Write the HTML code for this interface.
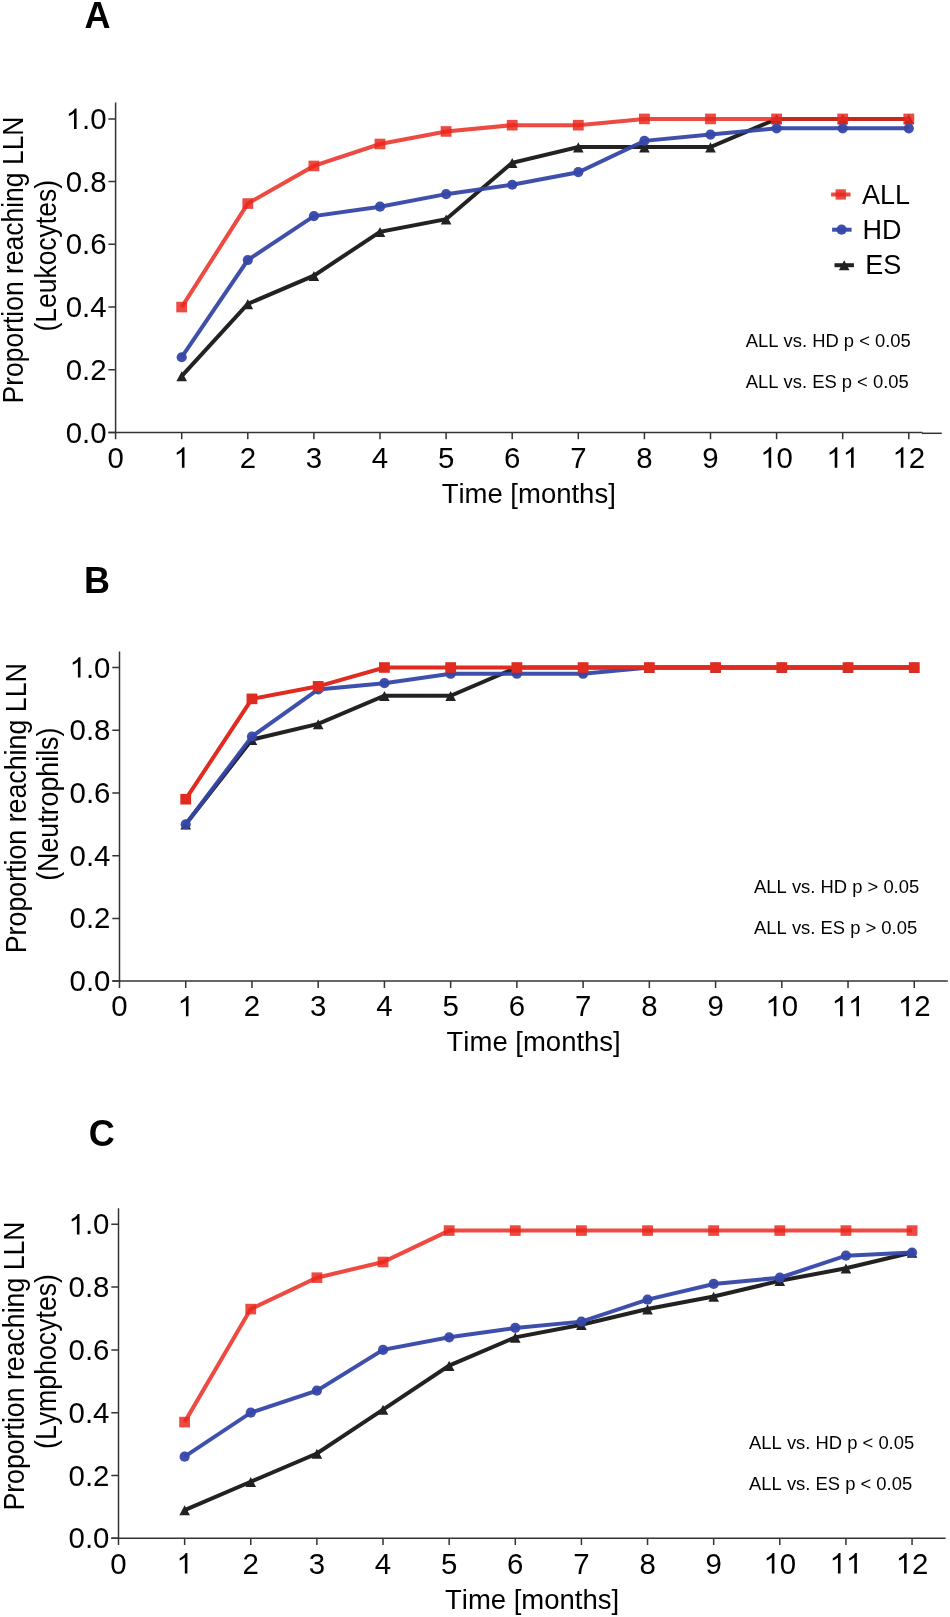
<!DOCTYPE html><html><head><meta charset="utf-8"><title>Figure</title><style>html,body{margin:0;padding:0;background:#fff;}svg{display:block;will-change:transform;}text{font-family:"Liberation Sans", sans-serif;fill:#000;font-kerning:none;}</style></head><body>
<svg width="950" height="1617" viewBox="0 0 950 1617">
<rect width="950" height="1617" fill="#fff"/>
<g><text x="84.5" y="28" font-size="36" font-weight="bold">A</text>
<g stroke="#333333" stroke-width="1.5" fill="none">
<path d="M115.6 102.6V432.5"/>
<path d="M108.4 432.5H922.5"/><path d="M922 433.3H941.8"/>
<path d="M108.4 432.5H115.6M108.4 369.78H115.6M108.4 307.06H115.6M108.4 244.34H115.6M108.4 181.62H115.6M108.4 118.9H115.6M115.6 432.5V439.3M181.7 432.5V439.3M247.8 432.5V439.3M313.9 432.5V439.3M380 432.5V439.3M446.1 432.5V439.3M512.2 432.5V439.3M578.3 432.5V439.3M644.4 432.5V439.3M710.5 432.5V439.3M776.6 432.5V439.3M842.7 432.5V439.3M908.8 432.5V439.3"/>
</g>
<g transform="translate(106.5 442.6) scale(1 1.03)"><text x="-40.87" y="0" font-size="29.4">0</text><text x="-24.52" y="0" font-size="29.4">.</text><text x="-16.35" y="0" font-size="29.4">0</text></g>
<g transform="translate(106.5 379.88) scale(1 1.03)"><text x="-40.87" y="0" font-size="29.4">0</text><text x="-24.52" y="0" font-size="29.4">.</text><text x="-16.35" y="0" font-size="29.4">2</text></g>
<g transform="translate(106.5 317.16) scale(1 1.03)"><text x="-40.87" y="0" font-size="29.4">0</text><text x="-24.52" y="0" font-size="29.4">.</text><text x="-16.35" y="0" font-size="29.4">4</text></g>
<g transform="translate(106.5 254.44) scale(1 1.03)"><text x="-40.87" y="0" font-size="29.4">0</text><text x="-24.52" y="0" font-size="29.4">.</text><text x="-16.35" y="0" font-size="29.4">6</text></g>
<g transform="translate(106.5 191.72) scale(1 1.03)"><text x="-40.87" y="0" font-size="29.4">0</text><text x="-24.52" y="0" font-size="29.4">.</text><text x="-16.35" y="0" font-size="29.4">8</text></g>
<g transform="translate(106.5 129) scale(1 1.03)"><path transform="translate(-40.87 0) scale(0.014355 -0.013463)" d="M763 0H583V1147Q518 1085 412 1023Q306 961 223 930V1104Q374 1175 487 1276Q600 1377 647 1472H763Z"/><text x="-24.52" y="0" font-size="29.4">.</text><text x="-16.35" y="0" font-size="29.4">0</text></g>
<g transform="translate(115.6 467.7) scale(1 1.03)"><text x="-8.17" y="0" font-size="29.4">0</text></g>
<g transform="translate(181.7 467.7) scale(1 1.03)"><path transform="translate(-8.17 0) scale(0.014355 -0.013463)" d="M763 0H583V1147Q518 1085 412 1023Q306 961 223 930V1104Q374 1175 487 1276Q600 1377 647 1472H763Z"/></g>
<g transform="translate(247.8 467.7) scale(1 1.03)"><text x="-8.17" y="0" font-size="29.4">2</text></g>
<g transform="translate(313.9 467.7) scale(1 1.03)"><text x="-8.17" y="0" font-size="29.4">3</text></g>
<g transform="translate(380 467.7) scale(1 1.03)"><text x="-8.17" y="0" font-size="29.4">4</text></g>
<g transform="translate(446.1 467.7) scale(1 1.03)"><text x="-8.17" y="0" font-size="29.4">5</text></g>
<g transform="translate(512.2 467.7) scale(1 1.03)"><text x="-8.17" y="0" font-size="29.4">6</text></g>
<g transform="translate(578.3 467.7) scale(1 1.03)"><text x="-8.17" y="0" font-size="29.4">7</text></g>
<g transform="translate(644.4 467.7) scale(1 1.03)"><text x="-8.17" y="0" font-size="29.4">8</text></g>
<g transform="translate(710.5 467.7) scale(1 1.03)"><text x="-8.17" y="0" font-size="29.4">9</text></g>
<g transform="translate(776.6 467.7) scale(1 1.03)"><path transform="translate(-16.35 0) scale(0.014355 -0.013463)" d="M763 0H583V1147Q518 1085 412 1023Q306 961 223 930V1104Q374 1175 487 1276Q600 1377 647 1472H763Z"/><text x="0" y="0" font-size="29.4">0</text></g>
<g transform="translate(842.7 467.7) scale(1 1.03)"><path transform="translate(-16.35 0) scale(0.014355 -0.013463)" d="M763 0H583V1147Q518 1085 412 1023Q306 961 223 930V1104Q374 1175 487 1276Q600 1377 647 1472H763Z"/><path transform="translate(0 0) scale(0.014355 -0.013463)" d="M763 0H583V1147Q518 1085 412 1023Q306 961 223 930V1104Q374 1175 487 1276Q600 1377 647 1472H763Z"/></g>
<g transform="translate(908.8 467.7) scale(1 1.03)"><path transform="translate(-16.35 0) scale(0.014355 -0.013463)" d="M763 0H583V1147Q518 1085 412 1023Q306 961 223 930V1104Q374 1175 487 1276Q600 1377 647 1472H763Z"/><text x="0" y="0" font-size="29.4">2</text></g>
<text transform="translate(528.7 502.7) scale(1 1.03)" font-size="27.5" text-anchor="middle">Time [months]</text>
<text transform="translate(23.1 260) rotate(-90) scale(0.946 1.05)" font-size="28" text-anchor="middle">Proportion reaching LLN</text>
<text transform="translate(55.5 255.8) rotate(-90) scale(0.946 1.05)" font-size="28" text-anchor="middle">(Leukocytes)</text>
<text x="745.7" y="346.8" font-size="18.4">ALL vs. HD p &lt; 0.05</text>
<text x="745.7" y="387.5" font-size="18.4">ALL vs. ES p &lt; 0.05</text>
<g fill="#222222"><polyline points="181.7,376.05 247.8,303.92 313.9,275.7 380,231.8 446.1,219.25 512.2,162.8 578.3,147.12 644.4,147.12 710.5,147.12 776.6,118.9 842.7,118.9 908.8,118.9" fill="none" stroke="#222222" stroke-width="4.0" stroke-linejoin="miter"/>
<path d="M181.7 371.25L187 381.35L176.4 381.35Z"/>
<path d="M247.8 299.12L253.1 309.22L242.5 309.22Z"/>
<path d="M313.9 270.9L319.2 281L308.6 281Z"/>
<path d="M380 227L385.3 237.1L374.7 237.1Z"/>
<path d="M446.1 214.45L451.4 224.55L440.8 224.55Z"/>
<path d="M512.2 158L517.5 168.1L506.9 168.1Z"/>
<path d="M578.3 142.32L583.6 152.42L573 152.42Z"/>
<path d="M644.4 142.32L649.7 152.42L639.1 152.42Z"/>
<path d="M710.5 142.32L715.8 152.42L705.2 152.42Z"/>
<path d="M776.6 114.1L781.9 124.2L771.3 124.2Z"/>
<path d="M842.7 114.1L848 124.2L837.4 124.2Z"/>
<path d="M908.8 114.1L914.1 124.2L903.5 124.2Z"/>
</g>
<g fill="#3547a8" fill-opacity="0.95"><polyline points="181.7,357.24 247.8,260.02 313.9,216.12 380,206.71 446.1,194.16 512.2,184.76 578.3,172.21 644.4,140.85 710.5,134.58 776.6,128.31 842.7,128.31 908.8,128.31" fill="none" stroke="#3547a8" stroke-opacity="0.95" stroke-width="4.0"/>
<circle cx="181.7" cy="357.24" r="5.1"/>
<circle cx="247.8" cy="260.02" r="5.1"/>
<circle cx="313.9" cy="216.12" r="5.1"/>
<circle cx="380" cy="206.71" r="5.1"/>
<circle cx="446.1" cy="194.16" r="5.1"/>
<circle cx="512.2" cy="184.76" r="5.1"/>
<circle cx="578.3" cy="172.21" r="5.1"/>
<circle cx="644.4" cy="140.85" r="5.1"/>
<circle cx="710.5" cy="134.58" r="5.1"/>
<circle cx="776.6" cy="128.31" r="5.1"/>
<circle cx="842.7" cy="128.31" r="5.1"/>
<circle cx="908.8" cy="128.31" r="5.1"/>
</g>
<g fill="#ea271d" fill-opacity="0.84"><polyline points="181.7,307.06 247.8,203.57 313.9,165.94 380,143.99 446.1,131.44 512.2,125.17 578.3,125.17 644.4,118.9 710.5,118.9 776.6,118.9 842.7,118.9 908.8,118.9" fill="none" stroke="#ea271d" stroke-opacity="0.84" stroke-width="4.0"/>
<rect x="176.3" y="301.76" width="10.8" height="10.6"/>
<rect x="242.4" y="198.27" width="10.8" height="10.6"/>
<rect x="308.5" y="160.64" width="10.8" height="10.6"/>
<rect x="374.6" y="138.69" width="10.8" height="10.6"/>
<rect x="440.7" y="126.14" width="10.8" height="10.6"/>
<rect x="506.8" y="119.87" width="10.8" height="10.6"/>
<rect x="572.9" y="119.87" width="10.8" height="10.6"/>
<rect x="639" y="113.6" width="10.8" height="10.6"/>
<rect x="705.1" y="113.6" width="10.8" height="10.6"/>
<rect x="771.2" y="113.6" width="10.8" height="10.6"/>
<rect x="837.3" y="113.6" width="10.8" height="10.6"/>
<rect x="903.4" y="113.6" width="10.8" height="10.6"/>
</g>
<g fill="#ea271d" fill-opacity="0.84"><path d="M831.1 194.5H850.5" stroke="#ea271d" stroke-opacity="0.84" stroke-width="4.0"/><rect x="835.6" y="189.3" width="10.3" height="10.3"/></g>
<g fill="#3547a8" fill-opacity="0.95"><path d="M832.1 229.7H851.6" stroke="#3547a8" stroke-opacity="0.95" stroke-width="4.0"/><circle cx="841.6" cy="229.7" r="5.1"/></g>
<g fill="#222222"><path d="M834.5 265.2H853.9" stroke="#222222" stroke-width="4.0"/><path d="M844.2 260.2L849.5 270.3L838.9 270.3Z"/></g>
<text x="862.1" y="203.6" font-size="27">ALL</text>
<text x="862.5" y="239" font-size="27">HD</text>
<text x="865.2" y="274" font-size="27">ES</text></g>
<g><text x="84" y="592.6" font-size="36" font-weight="bold">B</text>
<g stroke="#333333" stroke-width="1.5" fill="none">
<path d="M119.5 651.6V981.1"/>
<path d="M112.3 981.1H947.8"/>
<path d="M112.3 981.1H119.5M112.3 918.38H119.5M112.3 855.66H119.5M112.3 792.94H119.5M112.3 730.22H119.5M112.3 667.5H119.5M119.5 981.1V987.9M185.73 981.1V987.9M251.96 981.1V987.9M318.19 981.1V987.9M384.42 981.1V987.9M450.65 981.1V987.9M516.88 981.1V987.9M583.11 981.1V987.9M649.34 981.1V987.9M715.57 981.1V987.9M781.8 981.1V987.9M848.03 981.1V987.9M914.26 981.1V987.9"/>
</g>
<g transform="translate(110.4 991.2) scale(1 1.03)"><text x="-40.87" y="0" font-size="29.4">0</text><text x="-24.52" y="0" font-size="29.4">.</text><text x="-16.35" y="0" font-size="29.4">0</text></g>
<g transform="translate(110.4 928.48) scale(1 1.03)"><text x="-40.87" y="0" font-size="29.4">0</text><text x="-24.52" y="0" font-size="29.4">.</text><text x="-16.35" y="0" font-size="29.4">2</text></g>
<g transform="translate(110.4 865.76) scale(1 1.03)"><text x="-40.87" y="0" font-size="29.4">0</text><text x="-24.52" y="0" font-size="29.4">.</text><text x="-16.35" y="0" font-size="29.4">4</text></g>
<g transform="translate(110.4 803.04) scale(1 1.03)"><text x="-40.87" y="0" font-size="29.4">0</text><text x="-24.52" y="0" font-size="29.4">.</text><text x="-16.35" y="0" font-size="29.4">6</text></g>
<g transform="translate(110.4 740.32) scale(1 1.03)"><text x="-40.87" y="0" font-size="29.4">0</text><text x="-24.52" y="0" font-size="29.4">.</text><text x="-16.35" y="0" font-size="29.4">8</text></g>
<g transform="translate(110.4 677.6) scale(1 1.03)"><path transform="translate(-40.87 0) scale(0.014355 -0.013463)" d="M763 0H583V1147Q518 1085 412 1023Q306 961 223 930V1104Q374 1175 487 1276Q600 1377 647 1472H763Z"/><text x="-24.52" y="0" font-size="29.4">.</text><text x="-16.35" y="0" font-size="29.4">0</text></g>
<g transform="translate(119.5 1016.3) scale(1 1.03)"><text x="-8.17" y="0" font-size="29.4">0</text></g>
<g transform="translate(185.73 1016.3) scale(1 1.03)"><path transform="translate(-8.17 0) scale(0.014355 -0.013463)" d="M763 0H583V1147Q518 1085 412 1023Q306 961 223 930V1104Q374 1175 487 1276Q600 1377 647 1472H763Z"/></g>
<g transform="translate(251.96 1016.3) scale(1 1.03)"><text x="-8.17" y="0" font-size="29.4">2</text></g>
<g transform="translate(318.19 1016.3) scale(1 1.03)"><text x="-8.17" y="0" font-size="29.4">3</text></g>
<g transform="translate(384.42 1016.3) scale(1 1.03)"><text x="-8.17" y="0" font-size="29.4">4</text></g>
<g transform="translate(450.65 1016.3) scale(1 1.03)"><text x="-8.17" y="0" font-size="29.4">5</text></g>
<g transform="translate(516.88 1016.3) scale(1 1.03)"><text x="-8.17" y="0" font-size="29.4">6</text></g>
<g transform="translate(583.11 1016.3) scale(1 1.03)"><text x="-8.17" y="0" font-size="29.4">7</text></g>
<g transform="translate(649.34 1016.3) scale(1 1.03)"><text x="-8.17" y="0" font-size="29.4">8</text></g>
<g transform="translate(715.57 1016.3) scale(1 1.03)"><text x="-8.17" y="0" font-size="29.4">9</text></g>
<g transform="translate(781.8 1016.3) scale(1 1.03)"><path transform="translate(-16.35 0) scale(0.014355 -0.013463)" d="M763 0H583V1147Q518 1085 412 1023Q306 961 223 930V1104Q374 1175 487 1276Q600 1377 647 1472H763Z"/><text x="0" y="0" font-size="29.4">0</text></g>
<g transform="translate(848.03 1016.3) scale(1 1.03)"><path transform="translate(-16.35 0) scale(0.014355 -0.013463)" d="M763 0H583V1147Q518 1085 412 1023Q306 961 223 930V1104Q374 1175 487 1276Q600 1377 647 1472H763Z"/><path transform="translate(0 0) scale(0.014355 -0.013463)" d="M763 0H583V1147Q518 1085 412 1023Q306 961 223 930V1104Q374 1175 487 1276Q600 1377 647 1472H763Z"/></g>
<g transform="translate(914.26 1016.3) scale(1 1.03)"><path transform="translate(-16.35 0) scale(0.014355 -0.013463)" d="M763 0H583V1147Q518 1085 412 1023Q306 961 223 930V1104Q374 1175 487 1276Q600 1377 647 1472H763Z"/><text x="0" y="0" font-size="29.4">2</text></g>
<text transform="translate(533.65 1051.3) scale(1 1.03)" font-size="27.5" text-anchor="middle">Time [months]</text>
<text transform="translate(25.5 808.2) rotate(-90) scale(0.956 1.05)" font-size="28" text-anchor="middle">Proportion reaching LLN</text>
<text transform="translate(57.9 804.2) rotate(-90) scale(0.956 1.05)" font-size="28" text-anchor="middle">(Neutrophils)</text>
<text x="754.1" y="892.7" font-size="18.4">ALL vs. HD p &gt; 0.05</text>
<text x="754.1" y="933.5" font-size="18.4">ALL vs. ES p &gt; 0.05</text>
<g fill="#222222"><polyline points="185.73,824.3 251.96,739.63 318.19,723.95 384.42,695.72 450.65,695.72 516.88,667.5 583.11,667.5 649.34,667.5 715.57,667.5 781.8,667.5 848.03,667.5 914.26,667.5" fill="none" stroke="#222222" stroke-width="4.0" stroke-linejoin="miter"/>
<path d="M185.73 819.5L191.03 829.6L180.43 829.6Z"/>
<path d="M251.96 734.83L257.26 744.93L246.66 744.93Z"/>
<path d="M318.19 719.15L323.49 729.25L312.89 729.25Z"/>
<path d="M384.42 690.92L389.72 701.02L379.12 701.02Z"/>
<path d="M450.65 690.92L455.95 701.02L445.35 701.02Z"/>
<path d="M516.88 662.7L522.18 672.8L511.58 672.8Z"/>
<path d="M583.11 662.7L588.41 672.8L577.81 672.8Z"/>
<path d="M649.34 662.7L654.64 672.8L644.04 672.8Z"/>
<path d="M715.57 662.7L720.87 672.8L710.27 672.8Z"/>
<path d="M781.8 662.7L787.1 672.8L776.5 672.8Z"/>
<path d="M848.03 662.7L853.33 672.8L842.73 672.8Z"/>
<path d="M914.26 662.7L919.56 672.8L908.96 672.8Z"/>
</g>
<g fill="#3547a8" fill-opacity="0.95"><polyline points="185.73,824.3 251.96,736.49 318.19,689.45 384.42,683.18 450.65,673.77 516.88,673.77 583.11,673.77 649.34,667.5 715.57,667.5 781.8,667.5 848.03,667.5 914.26,667.5" fill="none" stroke="#3547a8" stroke-opacity="0.95" stroke-width="4.0"/>
<circle cx="185.73" cy="824.3" r="5.1"/>
<circle cx="251.96" cy="736.49" r="5.1"/>
<circle cx="318.19" cy="689.45" r="5.1"/>
<circle cx="384.42" cy="683.18" r="5.1"/>
<circle cx="450.65" cy="673.77" r="5.1"/>
<circle cx="516.88" cy="673.77" r="5.1"/>
<circle cx="583.11" cy="673.77" r="5.1"/>
<circle cx="649.34" cy="667.5" r="5.1"/>
<circle cx="715.57" cy="667.5" r="5.1"/>
<circle cx="781.8" cy="667.5" r="5.1"/>
<circle cx="848.03" cy="667.5" r="5.1"/>
<circle cx="914.26" cy="667.5" r="5.1"/>
</g>
<g fill="#e02b21" fill-opacity="1.0"><polyline points="185.73,799.21 251.96,698.86 318.19,686.32 384.42,667.5 450.65,667.5 516.88,667.5 583.11,667.5 649.34,667.5 715.57,667.5 781.8,667.5 848.03,667.5 914.26,667.5" fill="none" stroke="#e02b21" stroke-opacity="1.0" stroke-width="4.0"/>
<rect x="180.33" y="793.91" width="10.8" height="10.6"/>
<rect x="246.56" y="693.56" width="10.8" height="10.6"/>
<rect x="312.79" y="681.02" width="10.8" height="10.6"/>
<rect x="379.02" y="662.2" width="10.8" height="10.6"/>
<rect x="445.25" y="662.2" width="10.8" height="10.6"/>
<rect x="511.48" y="662.2" width="10.8" height="10.6"/>
<rect x="577.71" y="662.2" width="10.8" height="10.6"/>
<rect x="643.94" y="662.2" width="10.8" height="10.6"/>
<rect x="710.17" y="662.2" width="10.8" height="10.6"/>
<rect x="776.4" y="662.2" width="10.8" height="10.6"/>
<rect x="842.63" y="662.2" width="10.8" height="10.6"/>
<rect x="908.86" y="662.2" width="10.8" height="10.6"/>
</g></g>
<g><text x="88.8" y="1145.7" font-size="36" font-weight="bold">C</text>
<g stroke="#333333" stroke-width="1.5" fill="none">
<path d="M118.5 1208.3V1538.3"/>
<path d="M111.3 1538.3H945.6"/>
<path d="M111.3 1538.3H118.5M111.3 1475.5H118.5M111.3 1412.7H118.5M111.3 1349.9H118.5M111.3 1287.1H118.5M111.3 1224.3H118.5M118.5 1538.3V1545.1M184.63 1538.3V1545.1M250.76 1538.3V1545.1M316.89 1538.3V1545.1M383.02 1538.3V1545.1M449.15 1538.3V1545.1M515.28 1538.3V1545.1M581.41 1538.3V1545.1M647.54 1538.3V1545.1M713.67 1538.3V1545.1M779.8 1538.3V1545.1M845.93 1538.3V1545.1M912.06 1538.3V1545.1"/>
</g>
<g transform="translate(109.4 1548.4) scale(1 1.03)"><text x="-40.87" y="0" font-size="29.4">0</text><text x="-24.52" y="0" font-size="29.4">.</text><text x="-16.35" y="0" font-size="29.4">0</text></g>
<g transform="translate(109.4 1485.6) scale(1 1.03)"><text x="-40.87" y="0" font-size="29.4">0</text><text x="-24.52" y="0" font-size="29.4">.</text><text x="-16.35" y="0" font-size="29.4">2</text></g>
<g transform="translate(109.4 1422.8) scale(1 1.03)"><text x="-40.87" y="0" font-size="29.4">0</text><text x="-24.52" y="0" font-size="29.4">.</text><text x="-16.35" y="0" font-size="29.4">4</text></g>
<g transform="translate(109.4 1360) scale(1 1.03)"><text x="-40.87" y="0" font-size="29.4">0</text><text x="-24.52" y="0" font-size="29.4">.</text><text x="-16.35" y="0" font-size="29.4">6</text></g>
<g transform="translate(109.4 1297.2) scale(1 1.03)"><text x="-40.87" y="0" font-size="29.4">0</text><text x="-24.52" y="0" font-size="29.4">.</text><text x="-16.35" y="0" font-size="29.4">8</text></g>
<g transform="translate(109.4 1234.4) scale(1 1.03)"><path transform="translate(-40.87 0) scale(0.014355 -0.013463)" d="M763 0H583V1147Q518 1085 412 1023Q306 961 223 930V1104Q374 1175 487 1276Q600 1377 647 1472H763Z"/><text x="-24.52" y="0" font-size="29.4">.</text><text x="-16.35" y="0" font-size="29.4">0</text></g>
<g transform="translate(118.5 1573.5) scale(1 1.03)"><text x="-8.17" y="0" font-size="29.4">0</text></g>
<g transform="translate(184.63 1573.5) scale(1 1.03)"><path transform="translate(-8.17 0) scale(0.014355 -0.013463)" d="M763 0H583V1147Q518 1085 412 1023Q306 961 223 930V1104Q374 1175 487 1276Q600 1377 647 1472H763Z"/></g>
<g transform="translate(250.76 1573.5) scale(1 1.03)"><text x="-8.17" y="0" font-size="29.4">2</text></g>
<g transform="translate(316.89 1573.5) scale(1 1.03)"><text x="-8.17" y="0" font-size="29.4">3</text></g>
<g transform="translate(383.02 1573.5) scale(1 1.03)"><text x="-8.17" y="0" font-size="29.4">4</text></g>
<g transform="translate(449.15 1573.5) scale(1 1.03)"><text x="-8.17" y="0" font-size="29.4">5</text></g>
<g transform="translate(515.28 1573.5) scale(1 1.03)"><text x="-8.17" y="0" font-size="29.4">6</text></g>
<g transform="translate(581.41 1573.5) scale(1 1.03)"><text x="-8.17" y="0" font-size="29.4">7</text></g>
<g transform="translate(647.54 1573.5) scale(1 1.03)"><text x="-8.17" y="0" font-size="29.4">8</text></g>
<g transform="translate(713.67 1573.5) scale(1 1.03)"><text x="-8.17" y="0" font-size="29.4">9</text></g>
<g transform="translate(779.8 1573.5) scale(1 1.03)"><path transform="translate(-16.35 0) scale(0.014355 -0.013463)" d="M763 0H583V1147Q518 1085 412 1023Q306 961 223 930V1104Q374 1175 487 1276Q600 1377 647 1472H763Z"/><text x="0" y="0" font-size="29.4">0</text></g>
<g transform="translate(845.93 1573.5) scale(1 1.03)"><path transform="translate(-16.35 0) scale(0.014355 -0.013463)" d="M763 0H583V1147Q518 1085 412 1023Q306 961 223 930V1104Q374 1175 487 1276Q600 1377 647 1472H763Z"/><path transform="translate(0 0) scale(0.014355 -0.013463)" d="M763 0H583V1147Q518 1085 412 1023Q306 961 223 930V1104Q374 1175 487 1276Q600 1377 647 1472H763Z"/></g>
<g transform="translate(912.06 1573.5) scale(1 1.03)"><path transform="translate(-16.35 0) scale(0.014355 -0.013463)" d="M763 0H583V1147Q518 1085 412 1023Q306 961 223 930V1104Q374 1175 487 1276Q600 1377 647 1472H763Z"/><text x="0" y="0" font-size="29.4">2</text></g>
<text transform="translate(532.05 1608.5) scale(1 1.03)" font-size="27.5" text-anchor="middle">Time [months]</text>
<text transform="translate(23.7 1366) rotate(-90) scale(0.953 1.05)" font-size="28" text-anchor="middle">Proportion reaching LLN</text>
<text transform="translate(55.7 1361.5) rotate(-90) scale(0.953 1.05)" font-size="28" text-anchor="middle">(Lymphocytes)</text>
<text x="749.1" y="1449.3" font-size="18.4">ALL vs. HD p &lt; 0.05</text>
<text x="749.1" y="1490" font-size="18.4">ALL vs. ES p &lt; 0.05</text>
<g fill="#222222"><polyline points="184.63,1510.04 250.76,1481.78 316.89,1453.52 383.02,1409.56 449.15,1365.6 515.28,1337.34 581.41,1324.78 647.54,1309.08 713.67,1296.52 779.8,1280.82 845.93,1268.26 912.06,1252.56" fill="none" stroke="#222222" stroke-width="4.0" stroke-linejoin="miter"/>
<path d="M184.63 1505.24L189.93 1515.34L179.33 1515.34Z"/>
<path d="M250.76 1476.98L256.06 1487.08L245.46 1487.08Z"/>
<path d="M316.89 1448.72L322.19 1458.82L311.59 1458.82Z"/>
<path d="M383.02 1404.76L388.32 1414.86L377.72 1414.86Z"/>
<path d="M449.15 1360.8L454.45 1370.9L443.85 1370.9Z"/>
<path d="M515.28 1332.54L520.58 1342.64L509.98 1342.64Z"/>
<path d="M581.41 1319.98L586.71 1330.08L576.11 1330.08Z"/>
<path d="M647.54 1304.28L652.84 1314.38L642.24 1314.38Z"/>
<path d="M713.67 1291.72L718.97 1301.82L708.37 1301.82Z"/>
<path d="M779.8 1276.02L785.1 1286.12L774.5 1286.12Z"/>
<path d="M845.93 1263.46L851.23 1273.56L840.63 1273.56Z"/>
<path d="M912.06 1247.76L917.36 1257.86L906.76 1257.86Z"/>
</g>
<g fill="#3547a8" fill-opacity="0.95"><polyline points="184.63,1456.66 250.76,1412.7 316.89,1390.72 383.02,1349.9 449.15,1337.34 515.28,1327.92 581.41,1321.64 647.54,1299.66 713.67,1283.96 779.8,1277.68 845.93,1255.7 912.06,1252.56" fill="none" stroke="#3547a8" stroke-opacity="0.95" stroke-width="4.0"/>
<circle cx="184.63" cy="1456.66" r="5.1"/>
<circle cx="250.76" cy="1412.7" r="5.1"/>
<circle cx="316.89" cy="1390.72" r="5.1"/>
<circle cx="383.02" cy="1349.9" r="5.1"/>
<circle cx="449.15" cy="1337.34" r="5.1"/>
<circle cx="515.28" cy="1327.92" r="5.1"/>
<circle cx="581.41" cy="1321.64" r="5.1"/>
<circle cx="647.54" cy="1299.66" r="5.1"/>
<circle cx="713.67" cy="1283.96" r="5.1"/>
<circle cx="779.8" cy="1277.68" r="5.1"/>
<circle cx="845.93" cy="1255.7" r="5.1"/>
<circle cx="912.06" cy="1252.56" r="5.1"/>
</g>
<g fill="#ea271d" fill-opacity="0.84"><polyline points="184.63,1422.12 250.76,1309.08 316.89,1277.68 383.02,1261.98 449.15,1230.58 515.28,1230.58 581.41,1230.58 647.54,1230.58 713.67,1230.58 779.8,1230.58 845.93,1230.58 912.06,1230.58" fill="none" stroke="#ea271d" stroke-opacity="0.84" stroke-width="4.0"/>
<rect x="179.23" y="1416.82" width="10.8" height="10.6"/>
<rect x="245.36" y="1303.78" width="10.8" height="10.6"/>
<rect x="311.49" y="1272.38" width="10.8" height="10.6"/>
<rect x="377.62" y="1256.68" width="10.8" height="10.6"/>
<rect x="443.75" y="1225.28" width="10.8" height="10.6"/>
<rect x="509.88" y="1225.28" width="10.8" height="10.6"/>
<rect x="576.01" y="1225.28" width="10.8" height="10.6"/>
<rect x="642.14" y="1225.28" width="10.8" height="10.6"/>
<rect x="708.27" y="1225.28" width="10.8" height="10.6"/>
<rect x="774.4" y="1225.28" width="10.8" height="10.6"/>
<rect x="840.53" y="1225.28" width="10.8" height="10.6"/>
<rect x="906.66" y="1225.28" width="10.8" height="10.6"/>
</g></g>
</svg></body></html>
